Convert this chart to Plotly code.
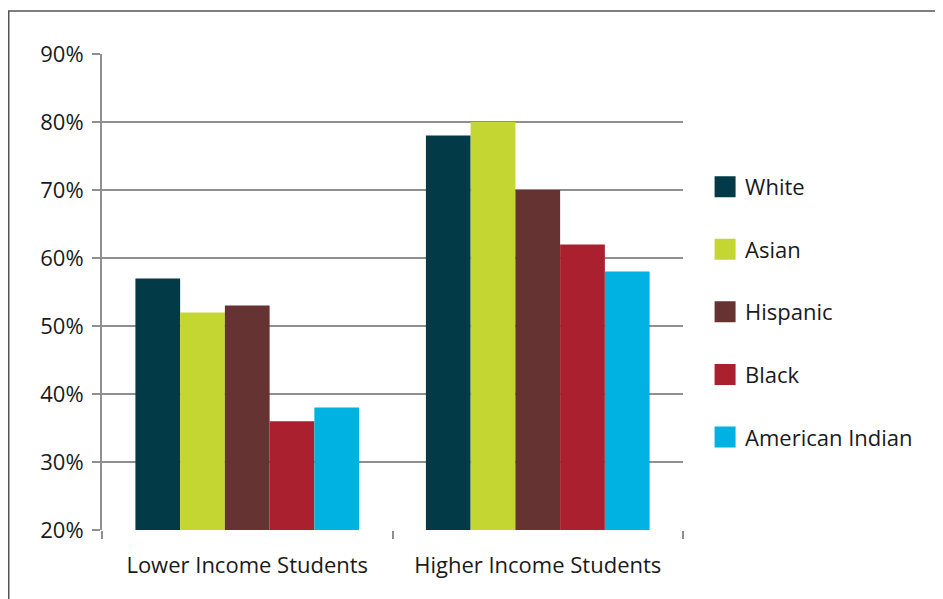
import plotly.graph_objects as go

categories = ["Lower Income Students", "Higher Income Students"]
series_names = ["White", "Asian", "Hispanic", "Black", "American Indian"]
white = [57, 78]
asian = [52, 80]
hispanic = [53, 70]
black = [36, 62]
american_indian = [38, 58]
series_values = [white, asian, hispanic, black, american_indian]
colors = ["#033a47", "#c4d631", "#663333", "#ab202e", "#00b2e2"]
y_ticks = [20, 30, 40, 50, 60, 70, 80, 90]
y_tick_labels = [f"{v}%" for v in y_ticks]

FONT = "Open Sans"
GRID = "#8f8f8f"
TEXT = "#1a1a1a"

fig = go.Figure()
for name, vals, col in zip(series_names, series_values, colors):
    fig.add_trace(go.Bar(
        x=categories, y=vals, name=name, marker=dict(color=col, line=dict(width=0)),
        showlegend=False, legendgroup=name,
    ))
    # legend entry with larger square symbol
    fig.add_trace(go.Scatter(
        x=[None], y=[None], mode="markers", name=name, legendgroup=name,
        marker=dict(symbol="square", size=16, color=col, line=dict(color=col, width=5)),
        showlegend=True, hoverinfo="skip",
    ))

L, R, T, B = 94, 260, 46, 69
W, H = 935, 591
PW, PH = W - L - R, H - T - B

fig.update_layout(
    width=W, height=H,
    margin=dict(l=L, r=R, t=T, b=B),
    paper_bgcolor="white", plot_bgcolor="white",
    barmode="group", bargap=0.23, bargroupgap=0,
    font=dict(family=FONT, size=22, color=TEXT),
    legend=dict(
        x=1.038, xanchor="left", y=0.765, yanchor="top",
        font=dict(family=FONT, size=22, color=TEXT),
        tracegroupgap=31, bgcolor="rgba(0,0,0,0)",
    ),
    xaxis=dict(
        type="category", showgrid=False, showline=False,
        ticks="outside", tickson="boundaries", ticklen=8, tickwidth=2, tickcolor=GRID,
        ticklabelstandoff=20, zeroline=False,
    ),
    yaxis=dict(
        range=[20, 90], tickvals=y_ticks, ticktext=y_tick_labels,
        showgrid=True, gridcolor=GRID, gridwidth=2,
        showline=True, linecolor=GRID, linewidth=2,
        ticks="outside", ticklen=8, tickwidth=2, tickcolor=GRID,
        ticklabelstandoff=4, zeroline=False,
    ),
    shapes=[dict(
        type="rect", xref="paper", yref="paper",
        x0=(0.75 - L) / PW, x1=1.6, y0=-0.3, y1=(PH + T - 3) / PH,
        line=dict(color="#555555", width=1.5), fillcolor="rgba(0,0,0,0)", layer="below",
    )],
)

fig.write_html("out.html")
